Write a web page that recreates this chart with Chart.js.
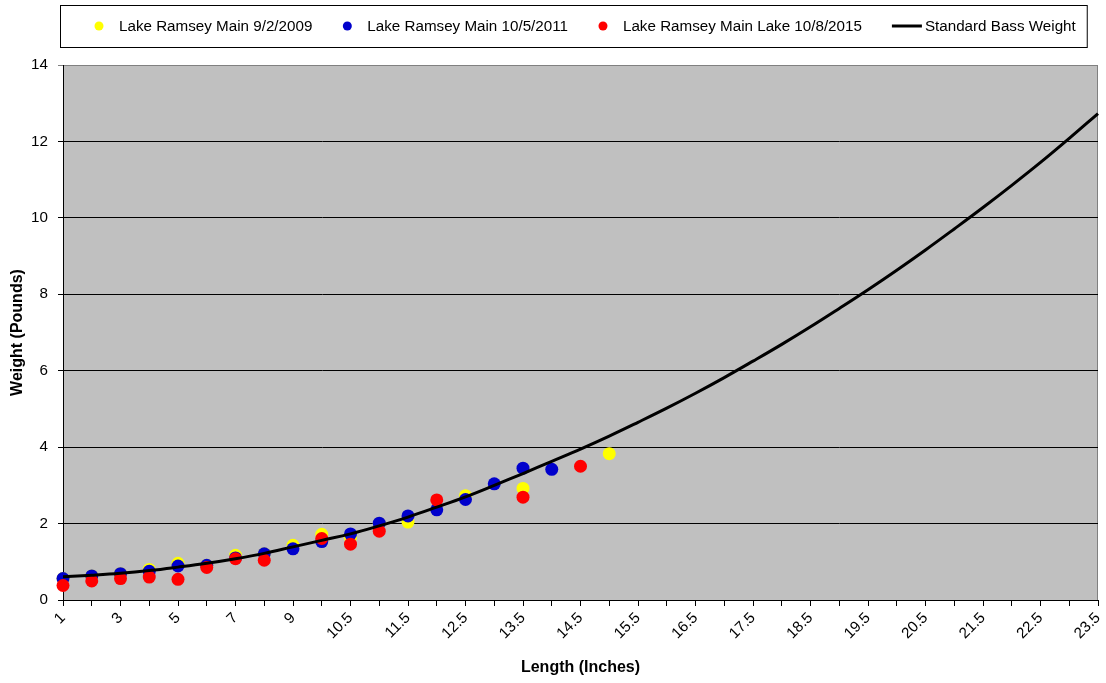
<!DOCTYPE html>
<html>
<head>
<meta charset="utf-8">
<script src="https://cdn.jsdelivr.net/npm/chart.js@4.4.0/dist/chart.umd.min.js"></script>
<style>
html,body{margin:0;padding:0;background:#fff;}
#wrap{width:1106px;height:683px;}
</style>
</head>
<body>
<div id="wrap"><canvas id="c" width="1106" height="683"></canvas></div>
<script>
// ---- Data ----
const lengths = ['1','2','3','4','5','6','7','8','9','10','10.5','11','11.5','12','12.5','13','13.5','14','14.5','15','15.5','16','16.5','17','17.5','18','18.5','19','19.5','20','20.5','21','21.5','22','22.5','23','23.5'];

const seriesNames = ['Lake Ramsey Main 9/2/2009','Lake Ramsey Main 10/5/2011','Lake Ramsey Main Lake 10/8/2015','Standard Bass Weight'];

const sample2009 = [0.56,0.63,0.69,0.80,0.96,0.91,1.17,1.21,1.43,1.72,1.63,2.00,2.04,null,2.73,null,2.92,null,null,3.83,
  null,null,null,null,null,null,null,null,null,null,null,null,null,null,null,null,null];
const sample2011 = [0.56,0.63,0.69,0.75,0.89,0.91,1.10,1.21,1.34,1.53,1.73,2.01,2.20,2.36,2.63,3.04,3.45,3.42,null,null,
  null,null,null,null,null,null,null,null,null,null,null,null,null,null,null,null,null];
const sample2015 = [0.38,0.50,0.56,0.60,0.54,0.85,1.08,1.04,null,1.61,1.46,1.80,null,2.62,null,null,2.69,null,3.50,null,
  null,null,null,null,null,null,null,null,null,null,null,null,null,null,null,null,null];
const standardWeight = [0.61,0.65,0.70,0.77,0.86,0.96,1.08,1.22,1.39,1.56,1.73,1.94,2.17,2.43,2.70,3.00,3.31,3.63,3.95,4.29,
  4.65,5.02,5.41,5.82,6.25,6.69,7.15,7.63,8.12,8.63,9.16,9.71,10.27,10.85,11.45,12.08,12.73];

const yTicks = {min:0, max:14, step:2};

// ---- Styling ----
const FONT = '"Liberation Sans", Arial, sans-serif';
const colors = ['#FFFF00','#0000CC','#FF0000','#000000'];

const bgPlugin = {
  id: 'plotBg',
  beforeDraw(chart) {
    const {ctx, chartArea: a} = chart;
    ctx.save();
    ctx.fillStyle = '#C0C0C0';
    ctx.fillRect(a.left, a.top, a.right - a.left, a.bottom - a.top);
    ctx.strokeStyle = '#808080';
    ctx.lineWidth = 1;
    ctx.strokeRect(a.left + 0.5, a.top + 0.5, a.right - a.left - 1, a.bottom - a.top);
    ctx.restore();
  }
};

const legendPlugin = {
  id: 'boxLegend',
  afterDraw(chart) {
    const ctx = chart.ctx;
    const ds = chart.data.datasets;
    ctx.save();
    ctx.font = '15.2px ' + FONT;
    ctx.textBaseline = 'middle';
    ctx.fillStyle = '#000';
    const gap = 30;
    const items = ds.map(d => {
      const isLine = d.showLine !== false;
      const mark = isLine ? 33 : 25;
      return {d, isLine, mark, w: mark + ctx.measureText(d.label).width};
    });
    const total = items.reduce((s, it) => s + it.w, 0) + gap * (items.length - 1);
    const padL = 34, padR = 11;
    const boxW = total + padL + padR;
    const boxCx = chart.width / 2 + 20;
    const boxL = Math.round(boxCx - boxW / 2);
    const boxT = 5, boxH = 42;
    const cy = boxT + boxH / 2;
    ctx.strokeStyle = '#000';
    ctx.lineWidth = 1;
    ctx.fillStyle = '#fff';
    ctx.fillRect(boxL + 0.5, boxT + 0.5, boxW, boxH);
    ctx.strokeRect(boxL + 0.5, boxT + 0.5, boxW, boxH);
    let x = boxL + padL;
    items.forEach(it => {
      if (it.isLine) {
        ctx.strokeStyle = it.d.borderColor;
        ctx.lineWidth = 3;
        ctx.beginPath();
        ctx.moveTo(x, cy);
        ctx.lineTo(x + 30, cy);
        ctx.stroke();
      } else {
        ctx.fillStyle = it.d.pointBackgroundColor;
        ctx.beginPath();
        ctx.arc(x + 5, cy, 4.5, 0, Math.PI * 2);
        ctx.fill();
      }
      ctx.fillStyle = '#000';
      ctx.fillText(it.d.label, x + it.mark, cy + 1);
      x += it.w + gap;
    });
    ctx.restore();
  }
};

function pointSeries(label, data, color, order) {
  return {
    label, data, order,
    showLine: false,
    pointStyle: 'circle',
    pointRadius: 6.5,
    pointHoverRadius: 6.5,
    pointBorderWidth: 0,
    pointBackgroundColor: color,
    pointBorderColor: color,
    backgroundColor: color,
    borderColor: color,
    clip: false
  };
}

new Chart(document.getElementById('c'), {
  type: 'line',
  data: {
    labels: lengths,
    datasets: [
      pointSeries(seriesNames[0], sample2009, colors[0], 3),
      pointSeries(seriesNames[1], sample2011, colors[1], 2),
      pointSeries(seriesNames[2], sample2015, colors[2], 1),
      {
        label: seriesNames[3], data: standardWeight, order: 0,
        borderColor: colors[3], backgroundColor: colors[3],
        borderWidth: 3, pointRadius: 0, pointHoverRadius: 0,
        tension: 0.4, fill: false
      }
    ]
  },
  options: {
    responsive: false,
    animation: false,
    events: [],
    layout: {padding: {top: 65, left: 0, right: 0, bottom: 0}},
    plugins: {legend: {display: false}, tooltip: {enabled: false}},
    scales: {
      x: {
        type: 'category',
        offset: false,
        grid: {drawOnChartArea: false, drawTicks: true, tickLength: 6, color: '#000', lineWidth: 1},
        border: {color: '#000', width: 1},
        ticks: {
          autoSkip: false, maxRotation: 45, minRotation: 45, padding: 3,
          color: '#000', font: {family: FONT, size: 15.2},
          callback: (v, i) => (i % 2 === 0 ? lengths[i] : '')
        },
        title: {display: true, text: 'Length (Inches)', color: '#000',
          font: {family: FONT, size: 16, weight: 'bold'}, padding: {top: 0, bottom: 6}},
        afterFit(s) { s.height = 83; s.paddingLeft = 0; s.paddingRight = 8; }
      },
      y: {
        min: yTicks.min, max: yTicks.max,
        ticks: {stepSize: yTicks.step, padding: 10, color: '#000', font: {family: FONT, size: 15.2}},
        grid: {drawTicks: true, tickLength: 5, lineWidth: 1,
          color: c => (c.tick && c.tick.value === yTicks.max ? '#808080' : '#000')},
        border: {color: '#000', width: 1},
        title: {display: true, text: 'Weight (Pounds)', color: '#000',
          font: {family: FONT, size: 16, weight: 'bold'}, padding: {top: 8, bottom: 0}},
        afterFit(s) { s.width = 63; s.paddingTop = 0; s.paddingBottom = 0; }
      }
    }
  },
  plugins: [bgPlugin, legendPlugin]
});
</script>
</body>
</html>
